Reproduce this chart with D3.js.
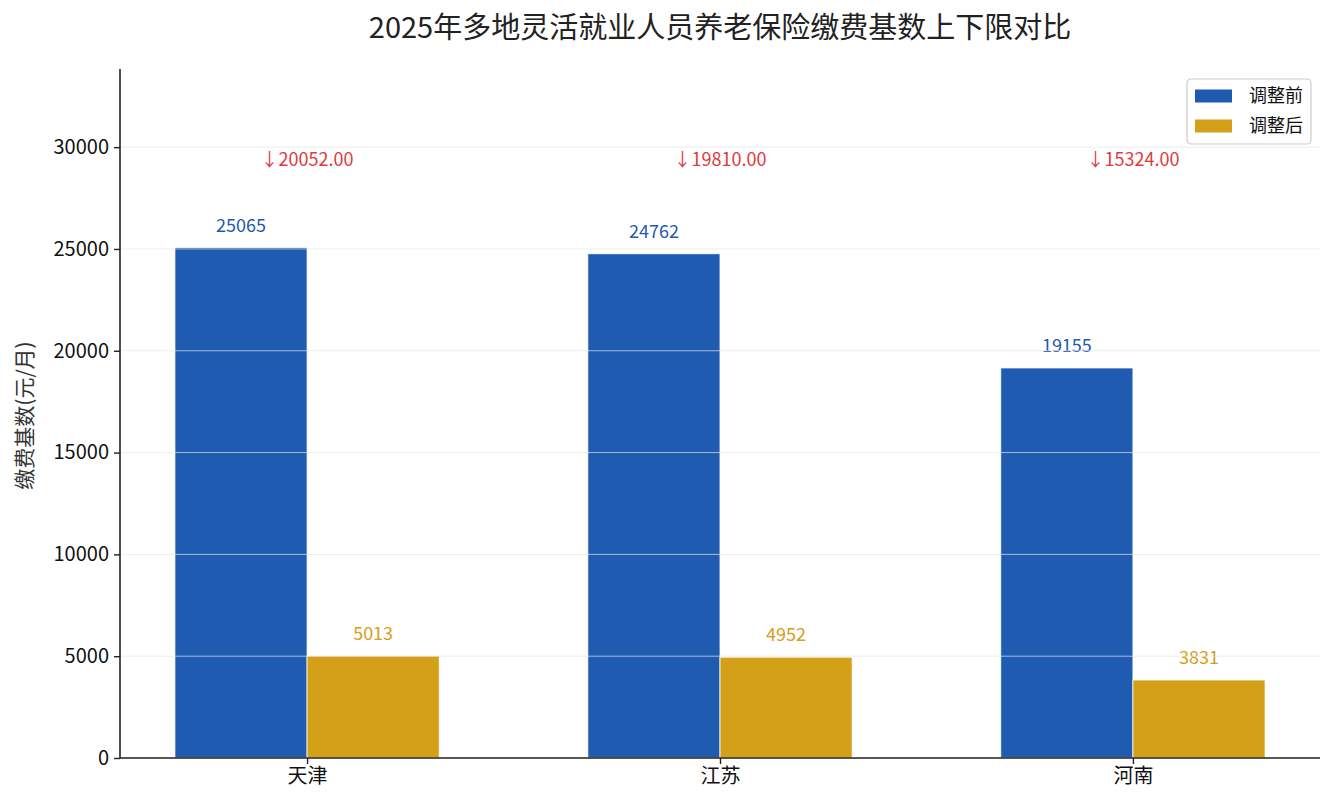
<!DOCTYPE html>
<html>
<head>
<meta charset="utf-8">
<script src="https://cdn.jsdelivr.net/npm/d3@7"></script>
<style>
  body { margin: 0; background: #fff; }
  svg text { font-family: "Noto Sans CJK SC", "Noto Sans", sans-serif; }
</style>
</head>
<body>
<svg id="chart-svg" width="1335" height="810"></svg>
<script>
// data
const regions = ["天津", "江苏", "河南"];
const before = [25065, 24762, 19155];
const after = [5013, 4952, 3831];
const seriesNames = ["调整前", "调整后"];
const yTicks = [0, 5000, 10000, 15000, 20000, 25000, 30000];

const colors = ["#1f5bb0", "#d4a017"];
const margin = { left: 120, right: 15, top: 69, bottom: 52 };
const width = 1335, height = 810;
const barW = 0.32;

const svg = d3.select("#chart-svg");

const xScale = d3.scaleLinear()
  .domain([-0.453, 2.453])
  .range([margin.left, width - margin.right]);

const yScale = d3.scaleLinear()
  .domain([0, d3.max(before) * 1.35])
  .range([height - margin.bottom, margin.top]);

const unit = xScale(1) - xScale(0);

// bars
const groups = [before, after];
groups.forEach((vals, s) => {
  svg.append("g").selectAll("rect")
    .data(vals)
    .join("rect")
    .attr("x", (d, i) => xScale(i) + (s === 0 ? -barW * unit : 0))
    .attr("y", d => yScale(d))
    .attr("width", barW * unit)
    .attr("height", d => yScale(0) - yScale(d))
    .attr("fill", colors[s])
    .attr("stroke", "#fff")
    .attr("stroke-width", 0.8);

  svg.append("g").selectAll("text")
    .data(vals)
    .join("text")
    .attr("x", (d, i) => xScale(i) + (s === 0 ? -barW / 2 : barW / 2) * unit)
    .attr("y", d => yScale(d) - 16)
    .attr("text-anchor", "middle")
    .style("font-size", "18px")
    .attr("fill", colors[s])
    .text(d => d);
});

// grid drawn over the bars, like the reference
svg.append("g").selectAll("line")
  .data(yTicks)
  .join("line")
  .attr("x1", margin.left).attr("x2", width - margin.right)
  .attr("y1", d => yScale(d)).attr("y2", d => yScale(d))
  .attr("stroke", "#e6e6e6")
  .attr("stroke-opacity", 0.7)
  .attr("stroke-width", 1);

// difference annotations
const annotY = d3.max(before) * 1.173;
svg.append("g").selectAll("text")
  .data(before)
  .join("text")
  .attr("x", (d, i) => xScale(i))
  .attr("y", yScale(annotY))
  .attr("dy", "0.35em")
  .attr("text-anchor", "middle")
  .style("font-size", "18px")
  .attr("fill", "#e03a3e")
  .text((d, i) => "↓" + (d - after[i]).toFixed(2));

// axes
const yAxis = svg.append("g")
  .attr("transform", `translate(${margin.left},0)`)
  .call(d3.axisLeft(yScale).tickValues(yTicks).tickFormat(d3.format("d")).tickSize(6).tickPadding(5));
yAxis.selectAll("text").style("font-size", "20px").attr("fill", "#111");

const xAxis = svg.append("g")
  .attr("transform", `translate(0,${height - margin.bottom})`)
  .call(d3.axisBottom(xScale).tickValues([0, 1, 2]).tickFormat(i => regions[i]).tickSize(6).tickPadding(5));
xAxis.selectAll("text").style("font-size", "20px").attr("fill", "#111");

[yAxis, xAxis].forEach(ax => {
  ax.select(".domain").attr("stroke", "#222").attr("stroke-width", 1.6);
  ax.selectAll(".tick line").attr("stroke", "#222").attr("stroke-width", 1.4);
});
// keep the y axis line running to the top
yAxis.select(".domain").attr("d", `M0,${margin.top}V${height - margin.bottom}`);
xAxis.select(".domain").attr("d", `M${margin.left},0H${width - margin.right}`);

// axis title
svg.append("text")
  .attr("transform", `translate(32,${(margin.top + height - margin.bottom) / 2 + 2}) rotate(-90)`)
  .attr("text-anchor", "middle")
  .style("font-size", "21px")
  .attr("fill", "#333")
  .text("缴费基数(元/月)");

// chart title
svg.append("text")
  .attr("x", (margin.left + width - margin.right) / 2)
  .attr("y", 38)
  .attr("text-anchor", "middle")
  .style("font-size", "29px")
  .attr("fill", "#222")
  .text("2025年多地灵活就业人员养老保险缴费基数上下限对比");

// legend
const legend = svg.append("g").attr("transform", "translate(1187,79)");
legend.append("rect")
  .attr("width", 124).attr("height", 65).attr("rx", 4)
  .attr("fill", "#fff").attr("fill-opacity", 0.85)
  .attr("stroke", "#cccccc").attr("stroke-width", 1.2);
seriesNames.forEach((name, i) => {
  const g = legend.append("g").attr("transform", `translate(8,${17 + i * 30})`);
  g.append("rect")
    .attr("y", -6.5)
    .attr("width", 37).attr("height", 13)
    .attr("fill", colors[i]);
  g.append("text")
    .attr("x", 54).attr("y", 0).attr("dy", "0.35em")
    .style("font-size", "18px")
    .attr("fill", "#111")
    .text(name);
});
</script>
</body>
</html>
